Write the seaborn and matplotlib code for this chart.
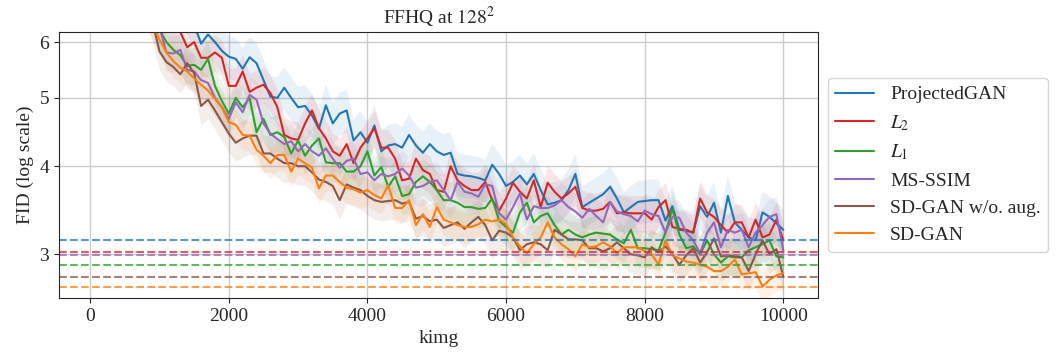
import numpy as np
import pandas as pd
import matplotlib
matplotlib.use("Agg")
import matplotlib.pyplot as plt
import seaborn as sns
from matplotlib.ticker import FixedLocator, ScalarFormatter, NullLocator

# DATOS (kimg cada 100 desde 700 hasta 10000)
kimg = list(range(700, 10001, 100))

projected = [9.5, 8.9, 8.3,
             7.8, 7.4, 7.0, 6.8, 6.6, 6.35, 5.97, 6.15, 6.0, 5.83,
             5.72, 5.68, 5.5, 5.71, 5.6, 5.3, 5.02, 5.0, 5.17, 5.0,
             4.85, 4.87, 4.72, 4.52, 4.88, 4.6, 4.75, 4.8, 4.35, 4.47,
             4.32, 4.57, 4.2, 4.28, 4.3, 4.25, 4.43, 4.28, 4.18, 4.3,
             4.2, 4.15, 4.18, 3.9, 3.88, 3.87, 3.85, 3.82, 4.02, 3.9,
             3.75, 3.8, 3.88, 3.77, 3.9, 3.7, 3.53, 3.55, 3.58, 3.7,
             3.9, 3.5, 3.55, 3.6, 3.65, 3.74, 3.6, 3.44, 3.5, 3.56,
             3.57, 3.58, 3.58, 3.35, 3.51, 3.25, 3.24, 3.22, 3.51, 3.39,
             3.55, 3.22, 3.63, 3.33, 3.25, 3.17, 3.14, 3.44, 3.39, 3.32,
             3.25]

l2 = [8.0, 7.5, 7.0,
      6.7, 6.5, 6.25, 6.2, 5.9, 6.0, 5.7, 5.7, 5.8, 5.7,
      5.2, 5.2, 5.45, 5.1, 5.17, 5.22, 5.08, 4.85, 4.43, 4.38,
      4.36, 4.6, 4.8, 4.53, 4.38, 4.2, 4.14, 4.3, 4.04, 4.25,
      4.38, 4.53, 4.25, 4.25, 4.1, 3.82, 3.84, 4.1, 3.95, 3.9,
      3.7, 3.68, 4.0, 3.82, 3.75, 3.7, 3.7, 3.8, 3.58, 3.46,
      3.6, 3.79, 3.68, 3.6, 3.82, 3.5, 3.79, 3.68, 3.6, 3.66,
      3.74, 3.49, 3.46, 3.46, 3.48, 3.56, 3.43, 3.44, 3.43, 3.43,
      3.43, 3.36, 3.5, 3.58, 3.28, 3.26, 3.25, 3.22, 3.6, 3.44,
      3.39, 3.3, 3.22, 3.33, 3.33, 3.17, 3.36, 3.17, 3.2, 3.36,
      3.14]

l1 = [7.5, 7.0, 6.6,
      6.25, 6.0, 5.85, 5.75, 5.55, 5.57, 5.48, 5.68, 5.2, 4.95,
      4.75, 5.0, 4.85, 5.0, 4.47, 4.67, 4.43, 4.47, 4.4, 4.17,
      4.35, 4.14, 4.28, 4.38, 4.05, 4.04, 4.04, 3.93, 3.93, 4.0,
      4.2, 3.88, 3.99, 3.74, 3.87, 3.63, 3.65, 3.8, 3.87, 3.8,
      3.7, 3.58, 3.58, 3.55, 3.5, 3.5, 3.48, 3.49, 3.6, 3.35,
      3.28, 3.22, 3.44, 3.55, 3.33, 3.4, 3.43, 3.3, 3.2, 3.25,
      3.2, 3.17, 3.2, 3.22, 3.21, 3.2, 3.15, 3.11, 3.25, 3.06,
      3.06, 3.05, 3.04, 3.22, 3.48, 3.2, 3.06, 3.08, 3.0, 3.14,
      3.0, 2.92, 2.98, 2.97, 2.97, 3.04, 3.07, 3.1, 3.14, 2.98,
      2.97]

msssim = [7.6, 7.1, 6.7,
          6.3, 5.8, 5.78, 5.85, 5.48, 5.45, 5.3, 5.25, 5.0, 4.85,
          4.67, 4.93, 4.77, 5.05, 4.97, 4.6, 4.45, 4.37, 4.3, 4.34,
          4.2, 4.3, 4.2, 4.14, 4.24, 4.1, 3.98, 4.07, 4.1, 3.9,
          3.92, 3.82, 3.9, 3.87, 3.9, 3.97, 3.88, 3.73, 3.75, 3.8,
          3.82, 3.7, 3.58, 3.8, 3.68, 3.66, 3.62, 3.77, 3.75, 3.43,
          3.36, 3.5, 3.66, 3.36, 3.51, 3.49, 3.49, 3.52, 3.58, 3.5,
          3.45, 3.38, 3.48, 3.4, 3.33, 3.56, 3.45, 3.42, 3.4, 3.34,
          3.46, 3.42, 3.4, 3.22, 3.39, 3.38, 3.22, 3.14, 3.01, 3.22,
          3.33, 3.07, 3.25, 3.22, 3.25, 3.07, 3.22, 3.3, 3.39, 3.42,
          3.04]

sdgan_noaug = [7.3, 6.8, 6.4,
               5.82, 5.62, 5.53, 5.4, 5.6, 5.42, 4.87, 4.97, 4.8, 4.62,
               4.45, 4.32, 4.38, 4.42, 4.42, 4.17, 4.17, 4.1, 4.04, 4.04,
               4.0, 4.0, 3.92, 3.83, 3.8, 3.75, 3.58, 3.77, 3.73, 3.7,
               3.63, 3.58, 3.56, 3.57, 3.58, 3.54, 3.56, 3.37, 3.4, 3.34,
               3.36, 3.27, 3.3, 3.33, 3.26, 3.33, 3.39, 3.3, 3.14, 3.24,
               3.22, 3.17, 3.04, 3.1, 3.12, 3.1, 3.04, 3.25, 3.2, 3.15,
               3.15, 3.14, 3.06, 3.06, 3.03, 3.06, 3.12, 3.06, 3.0, 2.99,
               2.97, 3.07, 3.02, 3.08, 3.0, 2.9, 2.99, 3.06, 2.92, 3.02,
               3.16, 2.98, 2.99, 2.98, 2.97, 2.84, 3.0, 3.14, 3.0, 3.05,
               2.79]

sdgan = [7.2, 6.7, 6.35,
         6.05, 5.8, 5.64, 5.52, 5.45, 5.33, 5.22, 5.12, 4.98, 4.85,
         4.62, 4.58, 4.43, 4.42, 4.22, 4.14, 4.04, 4.15, 4.15, 3.93,
         4.1, 4.04, 3.98, 3.72, 3.88, 3.88, 3.8, 3.73, 3.71, 3.67,
         3.7, 3.64, 3.6, 3.76, 3.49, 3.49, 3.58, 3.3, 3.42, 3.28,
         3.5, 3.36, 3.33, 3.3, 3.28, 3.28, 3.31, 3.36, 3.34, 3.36,
         3.31, 3.17, 3.08, 3.01, 3.1, 3.17, 3.33, 3.17, 3.1, 3.05,
         2.98, 3.1, 3.07, 3.08, 3.12, 3.08, 3.01, 3.07, 3.07, 3.07,
         3.03, 3.0, 2.9, 3.14, 2.99, 2.96, 2.93, 2.92, 2.9, 2.88,
         2.84, 2.84, 2.88, 2.95, 2.81, 2.82, 2.83, 2.7, 2.76, 2.8,
         2.82]

labels = ['ProjectedGAN', '$L_2$', '$L_1$', 'MS-SSIM', 'SD-GAN w/o. aug.', 'SD-GAN']
series = [projected, l2, l1, msssim, sdgan_noaug, sdgan]
best_fid = [3.14, 3.025, 2.90, 2.997, 2.79, 2.70]
spread = [0.07, 0.06, 0.06, 0.06, 0.06, 0.05]   # ancho relativo de la banda
colores = ['#1f77b4', '#d62728', '#2ca02c', '#9467bd', '#8c564b', '#ff7f0e']

# armar dataframe largo
df = pd.concat([pd.DataFrame({'kimg': kimg, 'FID': s, 'modelo': lab})
                for s, lab in zip(series, labels)], ignore_index=True)

# ESTILO
sns.set_style("ticks")
plt.rcParams['font.family'] = ['Liberation Serif', 'DejaVu Serif']
plt.rcParams['mathtext.fontset'] = 'stix'
plt.rcParams['font.size'] = 14

fig, ax = plt.subplots(figsize=(10.63, 3.64), dpi=100)
fig.subplots_adjust(left=0.0555, right=0.7695, top=0.912, bottom=0.181)

# bandas
for s, sp, c in zip(series, spread, colores):
    s = np.array(s)
    ax.fill_between(kimg, s * (1 - sp), s * (1 + sp), color=c, alpha=0.1, lw=0)

sns.lineplot(data=df, x='kimg', y='FID', hue='modelo', palette=colores,
             hue_order=labels, lw=1.5, ax=ax)

for b, c in zip(best_fid, colores):
    ax.axhline(b, color=c, ls='--', lw=1.5, alpha=0.75)

ax.set_yscale('log')
ax.set_ylim(2.6, 6.2)
ax.set_xlim(-450, 10500)
ax.yaxis.set_major_locator(FixedLocator([3, 4, 5, 6]))
ax.yaxis.set_major_formatter(ScalarFormatter())
ax.yaxis.set_minor_locator(NullLocator())
ax.set_xticks([0, 2000, 4000, 6000, 8000, 10000])
ax.grid(True, color='#cccccc', lw=1.0)
ax.set_axisbelow(True)

ax.set_title('FFHQ at $128^2$', fontsize=14)
ax.set_xlabel('kimg', fontsize=14)
ax.set_ylabel('FID (log scale)', fontsize=14)
ax.tick_params(labelsize=14)

ax.legend(loc='center left', bbox_to_anchor=(1.0, 0.5), fontsize=14, title=None)

plt.savefig('out.png', dpi=100)
